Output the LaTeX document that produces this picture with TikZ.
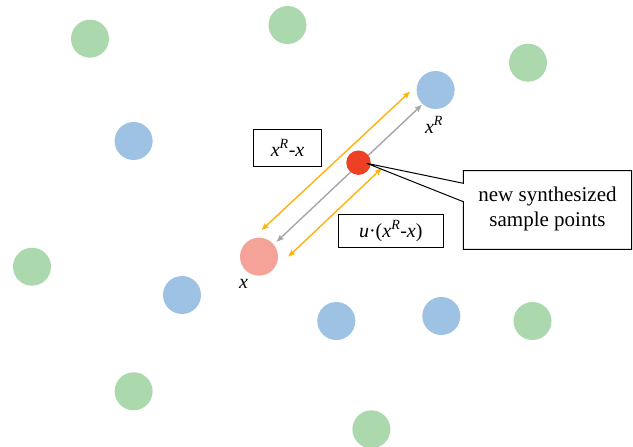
\documentclass[tikz,border=0pt]{standalone}
\usepackage{fontspec}
\setmainfont{Liberation Serif}
\usetikzlibrary{arrows.meta}
\definecolor{ptgreen}{RGB}{172,216,174}
\definecolor{ptblue}{RGB}{157,194,228}
\definecolor{ptpink}{RGB}{245,163,152}
\definecolor{ptred}{RGB}{238,65,36}
\definecolor{arrorange}{RGB}{255,178,10}
\definecolor{arrgray}{RGB}{166,166,166}
\tikzset{
  dot/.style={circle, minimum size=38pt, inner sep=0pt, draw=none},
  gdot/.style={dot, fill=ptgreen},
  bdot/.style={dot, fill=ptblue},
  lab/.style={font=\fontsize{20}{24}\selectfont, inner sep=0pt},
  labbox/.style={draw=black, line width=1pt, font=\fontsize{20}{24}\selectfont, inner sep=0pt},
  dblarrow/.style={line width=1.4pt, {Stealth[length=7pt,width=5.5pt,inset=1pt]}-{Stealth[length=7pt,width=5.5pt,inset=1pt]}},
}
\begin{document}
\begin{tikzpicture}[x=1pt,y=-1pt]
\useasboundingbox (0,0) rectangle (633,447);
% green points
\node[gdot] (g1) at (90,38.7) {};
\node[gdot] (g2) at (287.5,25) {};
\node[gdot] (g3) at (528,62.7) {};
\node[gdot] (g4) at (32,266.7) {};
\node[gdot] (g5) at (532.5,321) {};
\node[gdot] (g6) at (133.6,391.3) {};
\node[gdot] (g7) at (371.4,429.3) {};
% blue points
\node[bdot] (xr) at (435.6,90) {};
\node[bdot] (b2) at (133.6,141) {};
\node[bdot] (b3) at (182,295) {};
\node[bdot] (b4) at (336.3,321) {};
\node[bdot] (b5) at (441.3,316) {};
% x point
\node[dot, fill=ptpink] (x) at (259,256.7) {};
% labels of points
\node[lab] (xrlab) at (434,125) {\textit{x}\textsuperscript{\textit{R}}};
\node[lab] (xlab) at (243.5,284) {\textit{x}};
% arrow end points
\coordinate (oa1) at (261.7,230);
\coordinate (oa2) at (410,91.7);
\coordinate (ga1) at (276.7,241.7);
\coordinate (ga2) at (421.7,105);
\coordinate (ob1) at (288.3,256.7);
\coordinate (ob2) at (381.7,168.3);
\draw[dblarrow, draw=arrorange, color=arrorange] (oa1) -- (oa2);
\draw[dblarrow, draw=arrgray, color=arrgray] (ga1) -- (ga2);
\draw[dblarrow, draw=arrorange, color=arrorange] (ob1) -- (ob2);
% new synthesized point
\node[circle, minimum size=24.5pt, inner sep=0pt, fill=ptred] (red) at (358.5,162.7) {};
% boxes
\node[labbox, minimum width=68.3pt, minimum height=37pt] (diff) at (287.6,147.8)
  {\textit{x}\textsuperscript{\textit{R}}-\textit{x}};
\node[labbox, minimum width=105pt, minimum height=33.4pt] (udiff) at (390.8,231)
  {\textit{u}·(\textit{x}\textsuperscript{\textit{R}}-\textit{x})};
% callout
\coordinate (tip) at (366.7,163.3);
\coordinate (c1) at (463.3,170.7);
\coordinate (c2) at (631.7,170.7);
\coordinate (c3) at (631.7,249.3);
\coordinate (c4) at (463.3,249.3);
\coordinate (p1) at (463.3,201.7);
\coordinate (p2) at (463.3,183.3);
\draw[line width=1pt, fill=white, line join=miter] (c1) -- (c2) -- (c3) -- (c4) -- (p1) -- (tip) -- (p2) -- cycle;
\node[align=center, font=\fontsize{21}{25}\selectfont, inner sep=0pt] (callout) at (547.5,209)
  {new synthesized\\sample points};
\end{tikzpicture}
\end{document}
